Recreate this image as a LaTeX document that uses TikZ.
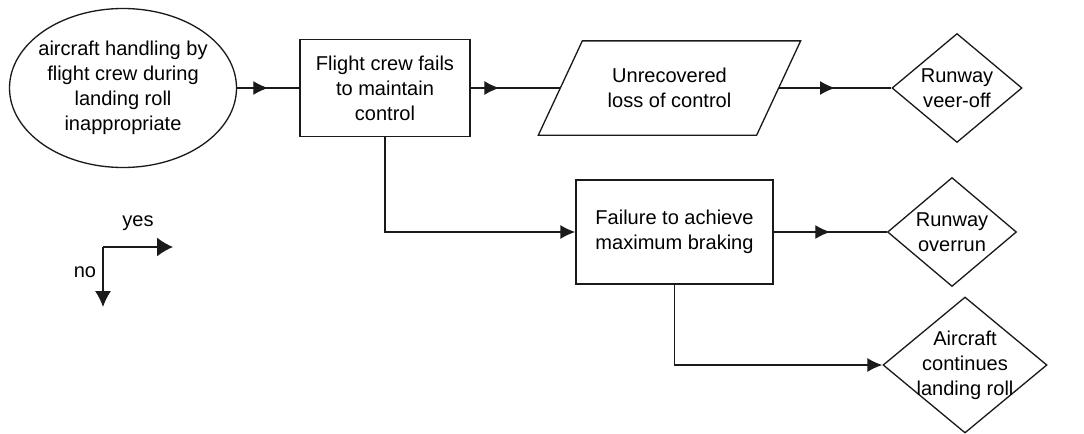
\documentclass[tikz,border=0pt]{standalone}
\usepackage{fontspec}
\setmainfont{Liberation Sans}
\usepackage{tikz}
\usetikzlibrary{calc, shapes.geometric, arrows.meta, decorations.markings}
\usepackage{xcolor}
\definecolor{color0}{HTML}{1A1A1A}

\begin{document}
\begin{tikzpicture}[
  font=\fontsize{11.4}{14.2}\selectfont,
  line width=0.75pt,
  box/.style={draw=color0, rectangle, align=center},
  stop/.style={draw=color0, diamond, align=center, inner sep=-6pt},
  tip/.style={-{Latex[length=0.3cm, width=0.28cm]}},
  midtip/.style={postaction={decorate}, decoration={markings,
      mark=at position #1 with {\arrow{Latex[length=0.3cm, width=0.28cm]}}}},
]
  \useasboundingbox (0, 0) rectangle (21.68, -8.66);

  \node[draw=color0, ellipse, align=center, inner sep=-4pt, minimum width=4.54cm, minimum height=3.18cm]
    (handling) at (2.46, -1.76) {aircraft handling by\\flight crew during\\landing roll\\inappropriate};
  \node[box, minimum width=3.4cm, minimum height=1.94cm] (crew) at (7.7, -1.76) {Flight crew fails\\to maintain\\control};
  \node[align=center, minimum width=4.34cm, minimum height=1.86cm] (loss) at (13.39, -1.76) {Unrecovered\\loss of control};
  \draw[color0] ($(loss.south west) + (-0.44, 0)$) -- ($(loss.north west) + (0.44, 0)$)
    -- ($(loss.north east) + (0.44, 0)$) -- ($(loss.south east) + (-0.44, 0)$) -- cycle;
  \node[stop, minimum width=2.6cm, minimum height=2.18cm] (veer) at (19.14, -1.76) {Runway\\veer-off};

  \node[box, minimum width=3.94cm, minimum height=2.08cm] (braking) at (13.49, -4.64) {Failure to achieve\\maximum braking};
  \node[stop, minimum width=2.58cm, minimum height=2.18cm] (overrun) at (19.04, -4.64) {Runway\\overrun};
  \node[stop, minimum width=3.28cm, minimum height=2.72cm] (roll) at (19.3, -7.3) {Aircraft\\continues\\landing roll};

  \draw[color0, midtip=0.5] (handling.east) -- (crew.west);
  \draw[color0, midtip=0.32] (crew.east) -- (loss.west);
  \draw[color0, midtip=0.5] (loss.east) -- (veer.west);
  \draw[color0, tip] (crew.south) |- (braking.west);
  \draw[color0, midtip=0.5] (braking.east) -- (overrun.west);
  \draw[color0, tip] (braking.south) |- (roll.west);

  \coordinate (corner) at (2.06, -4.94);
  \coordinate (yes-end) at (3.46, -4.94);
  \coordinate (no-end) at (2.06, -6.14);
  \draw[color0, -{Latex[length=0.32cm, width=0.38cm]}] (corner) -- (yes-end);
  \draw[color0, -{Latex[length=0.32cm, width=0.32cm]}] (corner) -- (no-end);
  \node (yes) at (2.76, -4.46) {yes};
  \node (no) at (1.7, -5.44) {no};
\end{tikzpicture}
\end{document}
